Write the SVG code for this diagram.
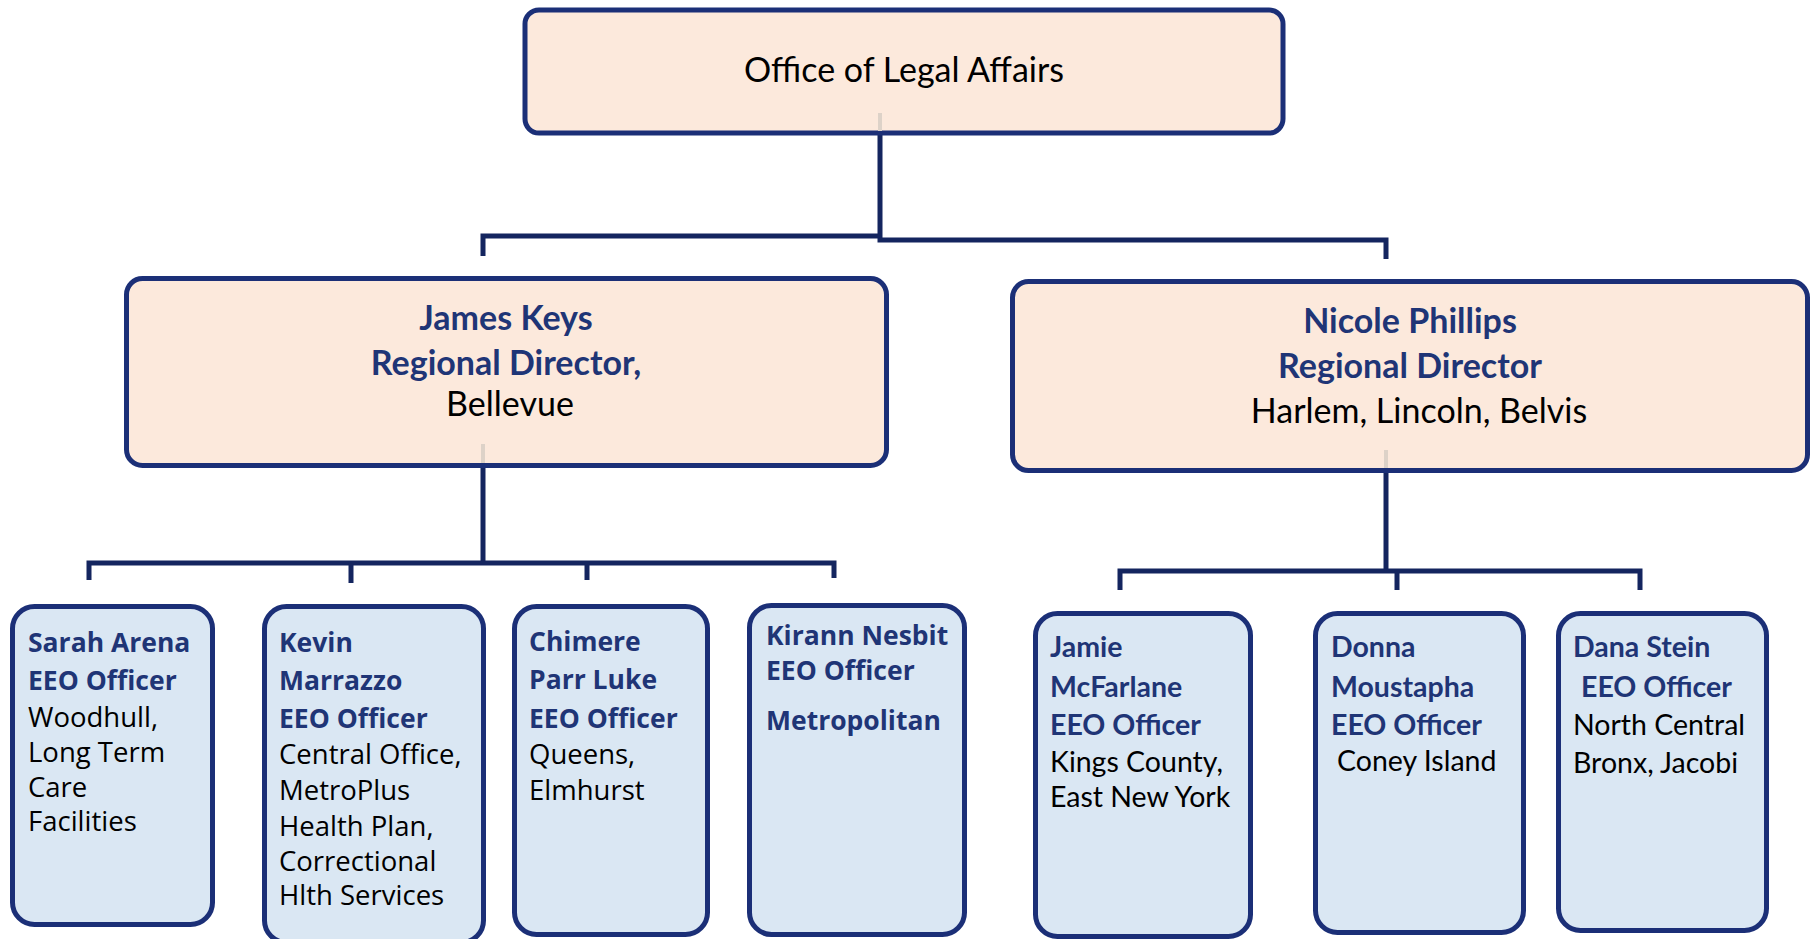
<svg xmlns="http://www.w3.org/2000/svg" width="1816" height="939" viewBox="0 0 1816 939">
<style>
.peach{fill:#FCE9DC;stroke:#1B2F77;stroke-width:5}
.blue{fill:#DAE7F3;stroke:#1B2F77;stroke-width:5}
.con{fill:none;stroke:#14255F;stroke-width:5}
.faint{fill:none;stroke:#DDD2C8;stroke-width:4}
.cal{font-family:Lato,"Open Sans",sans-serif;fill:#000}
.calb{font-family:Lato,"Open Sans",sans-serif;font-weight:700;fill:#1F3576}
.seg{font-family:"Open Sans","Noto Sans",sans-serif;fill:#000;font-size:27.5px}
.segb{font-family:"Open Sans","Noto Sans",sans-serif;font-weight:700;fill:#1F3576;font-size:26.5px}
.mid{text-anchor:middle;font-size:34px}
.sm{font-size:28.5px}
</style>
<rect width="1816" height="939" fill="#fff"/>
<g id="connectors">
<path class="con" d="M880 134 V240 H1386 V259"/>
<path class="con" d="M483 256 V236 H880"/>
<path class="con" d="M483 468 V563"/>
<path class="con" d="M89 580 V563 H834 V578"/>
<path class="con" d="M351 563 V583"/>
<path class="con" d="M587 563 V580"/>
<path class="con" d="M1386 473 V571"/>
<path class="con" d="M1120 590 V571 H1640 V590"/>
<path class="con" d="M1397 571 V590"/>
</g>
<g id="office">
<rect class="peach" x="525" y="10" width="758" height="123" rx="14"/>
<line class="faint" x1="880" y1="113" x2="880" y2="131"/>
<text class="cal mid" x="904" y="82">Office of Legal Affairs</text>
</g>
<g id="james">
<rect class="peach" x="126.5" y="278.5" width="760" height="187" rx="16"/>
<line class="faint" x1="483" y1="444" x2="483" y2="463"/>
<text class="calb mid" x="506" y="330">James Keys</text>
<text class="calb mid" x="506" y="375">Regional Director,</text>
<text class="cal mid" x="510" y="416">Bellevue</text>
</g>
<g id="nicole">
<rect class="peach" x="1012.5" y="281.5" width="795" height="189" rx="16"/>
<line class="faint" x1="1386" y1="450" x2="1386" y2="468"/>
<text class="calb mid" x="1410" y="333">Nicole Phillips</text>
<text class="calb mid" x="1410" y="378">Regional Director</text>
<text class="cal mid" x="1419" y="423">Harlem, Lincoln, Belvis</text>
</g>
<g id="sarah">
<rect class="blue" x="12.5" y="606.5" width="200" height="318" rx="22"/>
<text class="segb" x="28" y="652">Sarah Arena</text>
<text class="segb" x="28" y="690">EEO Officer</text>
<text class="seg" x="28" y="727">Woodhull,</text>
<text class="seg" x="28" y="762">Long Term</text>
<text class="seg" x="28" y="797">Care</text>
<text class="seg" x="28" y="831">Facilities</text>
</g>
<g id="kevin">
<rect class="blue" x="264.5" y="606.5" width="219" height="336" rx="22"/>
<text class="segb" x="279" y="652">Kevin</text>
<text class="segb" x="279" y="690">Marrazzo</text>
<text class="segb" x="279" y="728">EEO Officer</text>
<text class="seg" x="279" y="764">Central Office,</text>
<text class="seg" x="279" y="800">MetroPlus</text>
<text class="seg" x="279" y="836">Health Plan,</text>
<text class="seg" x="279" y="871">Correctional</text>
<text class="seg" x="279" y="905">Hlth Services</text>
</g>
<g id="chimere">
<rect class="blue" x="514.5" y="606.5" width="193" height="328" rx="22"/>
<text class="segb" x="529" y="651">Chimere</text>
<text class="segb" x="529" y="689">Parr Luke</text>
<text class="segb" x="529" y="728">EEO Officer</text>
<text class="seg" x="529" y="764">Queens,</text>
<text class="seg" x="529" y="800">Elmhurst</text>
</g>
<g id="kirann">
<rect class="blue" x="749.5" y="605.5" width="215" height="329" rx="22"/>
<text class="segb" x="766" y="645">Kirann Nesbit</text>
<text class="segb" x="766" y="680">EEO Officer</text>
<text class="segb" x="766" y="730">Metropolitan</text>
</g>
<g id="jamie">
<rect class="blue" x="1035.5" y="613.5" width="215" height="323" rx="22"/>
<text class="calb sm" x="1050" y="657">Jamie</text>
<text class="calb sm" x="1050" y="697">McFarlane</text>
<text class="calb sm" x="1050" y="735">EEO Officer</text>
<text class="cal sm" x="1050" y="772">Kings County,</text>
<text class="cal sm" x="1050" y="807">East New York</text>
</g>
<g id="donna">
<rect class="blue" x="1315.5" y="613.5" width="208" height="319" rx="22"/>
<text class="calb sm" x="1331" y="657">Donna</text>
<text class="calb sm" x="1331" y="697">Moustapha</text>
<text class="calb sm" x="1331" y="735">EEO Officer</text>
<text class="cal sm" x="1337" y="771">Coney Island</text>
</g>
<g id="dana">
<rect class="blue" x="1558.5" y="613.5" width="208" height="317" rx="22"/>
<text class="calb sm" x="1573" y="657">Dana Stein</text>
<text class="calb sm" x="1581" y="697">EEO Officer</text>
<text class="cal sm" x="1573" y="735">North Central</text>
<text class="cal sm" x="1573" y="773">Bronx, Jacobi</text>
</g>
</svg>
